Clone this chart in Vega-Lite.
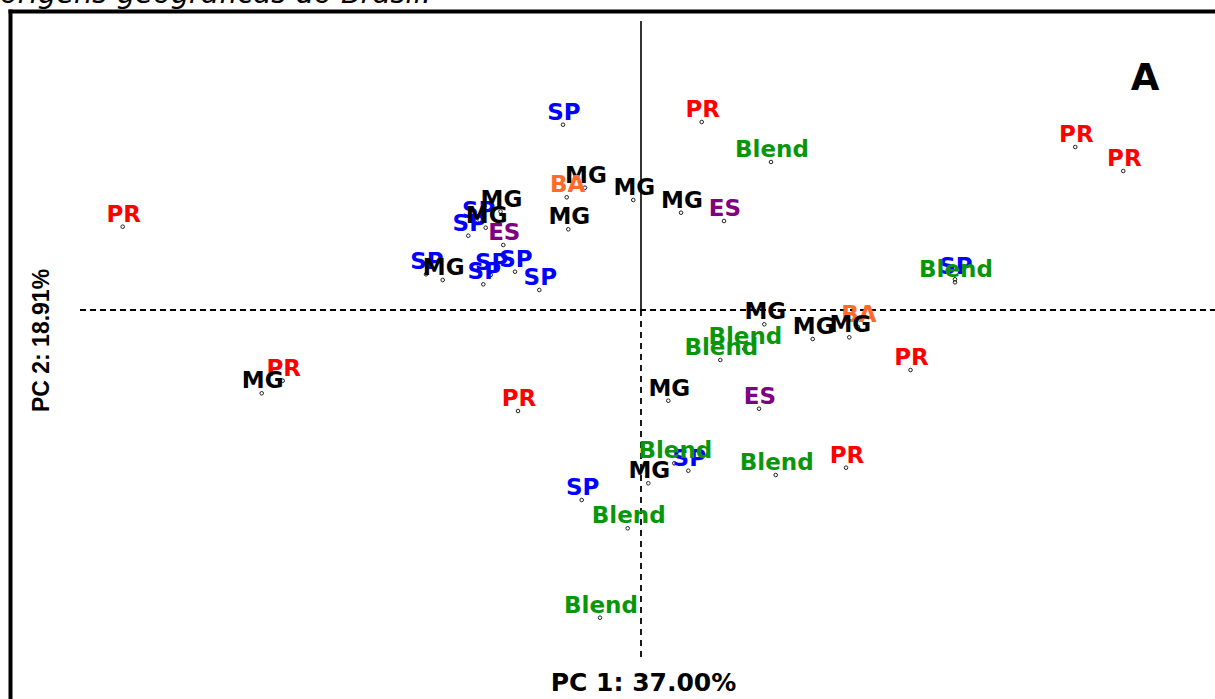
{
  "$schema": "https://vega.github.io/schema/vega-lite/v6.json",
  "width": 1205,
  "height": 688,
  "autosize": {"type": "none"},
  "padding": {"left": 10, "top": 11, "right": 0, "bottom": 0},
  "background": "white",
  "config": {"view": {"stroke": null}},
  "title": {
    "text": "origens geográficas do Brasil.",
    "anchor": "start",
    "frame": "group",
    "orient": "top",
    "font": "DejaVu Sans",
    "fontStyle": "italic",
    "fontWeight": "normal",
    "fontSize": 29,
    "color": "black",
    "baseline": "alphabetic",
    "offset": 0,
    "dy": 21,
    "dx": -10
  },
  "datasets": {
    "scores": [
      {"group": "PR", "pc1": -5.183, "pc2": 0.833},
      {"group": "SP", "pc1": -0.78, "pc2": 1.853},
      {"group": "PR", "pc1": 0.607, "pc2": 1.88},
      {"group": "Blend", "pc1": 1.30, "pc2": 1.48},
      {"group": "PR", "pc1": 4.343, "pc2": 1.63},
      {"group": "PR", "pc1": 4.823, "pc2": 1.39},
      {"group": "SP", "pc1": 3.14, "pc2": 0.307},
      {"group": "Blend", "pc1": 3.14, "pc2": 0.277},
      {"group": "MG", "pc1": -0.56, "pc2": 1.223},
      {"group": "BA", "pc1": -0.743, "pc2": 1.127},
      {"group": "MG", "pc1": -0.077, "pc2": 1.10},
      {"group": "MG", "pc1": 0.40, "pc2": 0.973},
      {"group": "ES", "pc1": 0.83, "pc2": 0.89},
      {"group": "MG", "pc1": -0.727, "pc2": 0.807},
      {"group": "SP", "pc1": -1.633, "pc2": 0.873},
      {"group": "MG", "pc1": -1.405, "pc2": 0.985},
      {"group": "SP", "pc1": -1.727, "pc2": 0.743},
      {"group": "MG", "pc1": -1.553, "pc2": 0.823},
      {"group": "ES", "pc1": -1.377, "pc2": 0.65},
      {"group": "SP", "pc1": -2.15, "pc2": 0.357},
      {"group": "MG", "pc1": -1.983, "pc2": 0.30},
      {"group": "SP", "pc1": -1.503, "pc2": 0.35},
      {"group": "SP", "pc1": -1.577, "pc2": 0.257},
      {"group": "SP", "pc1": -1.26, "pc2": 0.383},
      {"group": "SP", "pc1": -1.017, "pc2": 0.20},
      {"group": "MG", "pc1": 1.233, "pc2": -0.143},
      {"group": "BA", "pc1": 2.17, "pc2": -0.17},
      {"group": "MG", "pc1": 1.717, "pc2": -0.29},
      {"group": "MG", "pc1": 2.083, "pc2": -0.273},
      {"group": "Blend", "pc1": 1.033, "pc2": -0.39},
      {"group": "Blend", "pc1": 0.793, "pc2": -0.50},
      {"group": "PR", "pc1": 2.695, "pc2": -0.60},
      {"group": "MG", "pc1": 0.273, "pc2": -0.907},
      {"group": "ES", "pc1": 1.18, "pc2": -0.987},
      {"group": "PR", "pc1": -3.583, "pc2": -0.707},
      {"group": "MG", "pc1": -3.793, "pc2": -0.833},
      {"group": "PR", "pc1": -1.23, "pc2": -1.01},
      {"group": "SP", "pc1": 0.473, "pc2": -1.607},
      {"group": "Blend", "pc1": 0.333, "pc2": -1.533},
      {"group": "MG", "pc1": 0.073, "pc2": -1.733},
      {"group": "SP", "pc1": -0.593, "pc2": -1.90},
      {"group": "Blend", "pc1": -0.133, "pc2": -2.183},
      {"group": "Blend", "pc1": 1.347, "pc2": -1.65},
      {"group": "PR", "pc1": 2.05, "pc2": -1.577},
      {"group": "Blend", "pc1": -0.41, "pc2": -3.077}
    ]
  },
  "encoding": {
    "x": {
      "field": "pc1", "type": "quantitative",
      "scale": {"domain": [-6.31, 5.74], "nice": false, "zero": false},
      "axis": {
        "orient": "top", "domain": true, "domainColor": "black", "domainWidth": 4, "domainCap": "square",
        "ticks": false, "labels": false, "grid": false,
        "title": "PC 1: 37.00%", "titleFont": "DejaVu Sans", "titleFontWeight": "bold", "titleFontSize": 25,
        "titleColor": "black", "titleX": 633, "titleY": 679, "titleBaseline": "alphabetic", "titleAlign": "center"
      }
    },
    "y": {
      "field": "pc2", "type": "quantitative",
      "scale": {"domain": [-3.89, 2.99], "nice": false, "zero": false},
      "axis": {
        "orient": "left", "domain": true, "domainColor": "black", "domainWidth": 4, "domainCap": "square",
        "ticks": false, "labels": false, "grid": false,
        "title": "PC 2: 18.91%", "titleFont": "Liberation Sans", "titleFontWeight": "bold", "titleFontSize": 23,
        "titleColor": "black", "titleAngle": -90, "titleX": 31, "titleY": 329, "titleBaseline": "middle", "titleAlign": "center"
      }
    }
  },
  "layer": [
    {
      "data": {"values": [{"pc1": -5.61, "pc1b": 5.74, "pc2": 0}]},
      "mark": {"type": "rule", "color": "black", "strokeWidth": 1.8, "strokeDash": [6, 4]},
      "encoding": {"x2": {"field": "pc1b"}}
    },
    {
      "data": {"values": [{"pc1": 0, "pc2": 2.89, "pc2b": 0}]},
      "mark": {"type": "rule", "color": "black", "strokeWidth": 1.6},
      "encoding": {"y2": {"field": "pc2b"}}
    },
    {
      "data": {"values": [{"pc1": 0, "pc2": 0, "pc2b": -3.48}]},
      "mark": {"type": "rule", "color": "black", "strokeWidth": 1.8, "strokeDash": [6, 5]},
      "encoding": {"y2": {"field": "pc2b"}}
    },
    {
      "data": {"name": "scores"},
      "mark": {"type": "point", "shape": "circle", "filled": false, "stroke": "#222222", "strokeWidth": 1, "size": 13, "opacity": 1}
    },
    {
      "data": {"name": "scores"},
      "mark": {"type": "text", "font": "DejaVu Sans", "fontWeight": "bold", "fontSize": 23, "align": "center", "baseline": "alphabetic", "dy": -5, "dx": 1},
      "encoding": {
        "text": {"field": "group"},
        "color": {
          "field": "group", "type": "nominal",
          "scale": {"domain": ["PR", "SP", "MG", "Blend", "BA", "ES"], "range": ["#ff0000", "#0000ff", "#000000", "#0a960a", "#ff6a2a", "#800080"]},
          "legend": null
        }
      }
    },
    {
      "data": {"values": [{"pc1": 5.04, "pc2": 2.20, "tag": "A"}]},
      "mark": {"type": "text", "font": "DejaVu Sans", "fontWeight": "bold", "fontSize": 37, "align": "center", "baseline": "alphabetic", "color": "black"},
      "encoding": {"text": {"field": "tag"}}
    }
  ]
}
